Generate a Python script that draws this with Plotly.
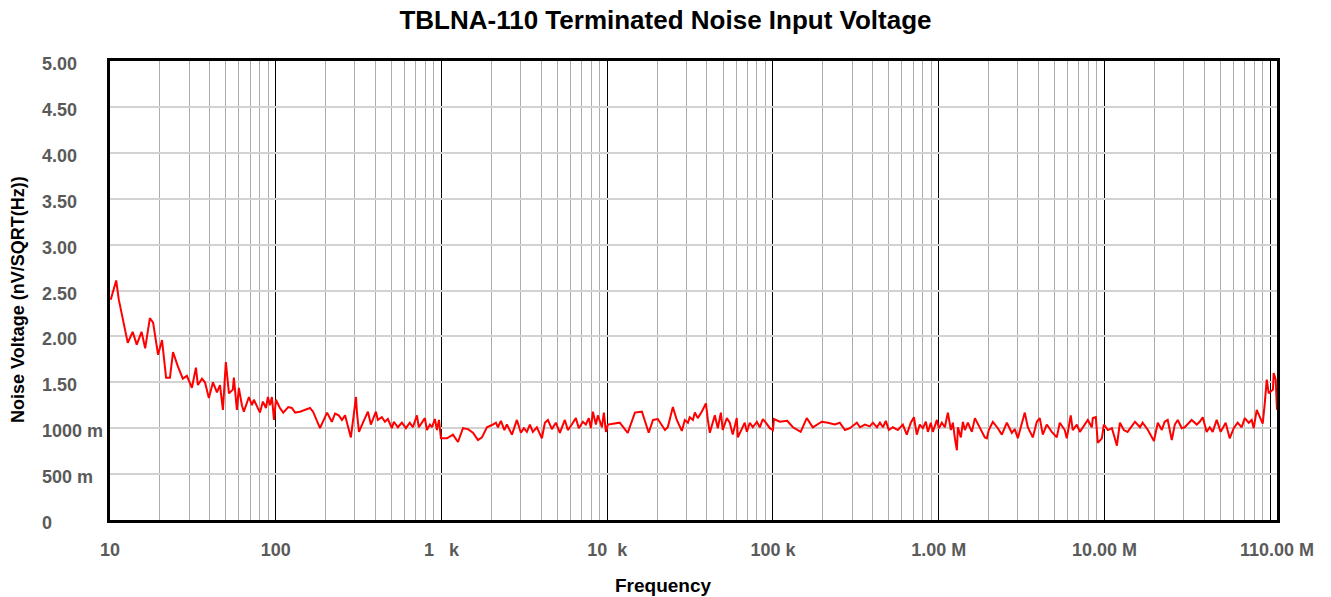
import plotly.graph_objects as go

# ---- data ----
freq_hz = [
    10.1, 10.9, 11.3, 12.8, 13.7, 14.5, 15.5, 16.3, 17.4, 18.2, 19.5, 20.6, 21.8, 23.0, 24.0,
    25.7, 27.5, 29.1, 31.2, 33.0, 33.9, 35.9, 37.4, 39.5, 41.8, 44.2, 46.1, 48.0, 50.0, 52.2,
    55.1, 55.9, 58.3, 59.9, 62.5, 64.2, 68.9, 71.8, 73.8, 80.3, 83.7, 87.3, 89.7, 92.2, 94.8,
    97.6, 100.3, 106, 111, 119, 125, 131, 140, 161, 168, 185, 204, 218, 228, 240,
    251, 262, 284, 292, 305, 309, 318, 336, 360, 375, 402, 413, 437, 456, 475,
    502, 516, 546, 577, 610, 644, 672, 711, 730, 761, 794, 817, 852, 876, 913,
    939, 966, 993, 1080, 1173, 1258, 1348, 1445, 1549, 1660, 1755, 1881, 2044, 2131, 2191,
    2284, 2397, 2482, 2662, 2852, 3015, 3142, 3277, 3416, 3561, 3765, 4035, 4207, 4385, 4636,
    4900, 5180, 5552, 5788, 6119, 6468, 6741, 7135, 7430, 7744, 7973, 8198, 8546, 8787, 9290,
    9548, 9826, 10.1e3, 11.9e3, 13.3e3, 14.7e3, 16.2e3, 17.8e3, 18.9e3, 20.2e3, 22.3e3, 23.2e3, 24.9e3, 26.3e3, 28.2e3,
    29.4e3, 30.7e3, 31.5e3, 32.9e3, 33.8e3, 35.2e3, 37.2e3, 39.4e3, 40.5e3, 41.6e3, 44.6e3, 46.5e3, 48.5e3, 49.8e3, 52.7e3,
    54.9e3, 57.2e3, 60.5e3, 61.4e3, 64.9e3, 67.6e3, 69.6e3, 72.5e3, 75.6e3, 80.0e3, 83.3e3, 86.9e3, 90.6e3, 95.8e3, 100e3,
    101.4e3, 110e3, 122e3, 132e3, 147e3, 160e3, 174e3, 197e3, 215e3, 236e3, 253e3, 272e3, 291e3, 321e3, 335e3,
    359e3, 384e3, 401e3, 424e3, 442e3, 461e3, 480e3, 500e3, 529e3, 567e3, 608e3, 642e3, 679e3, 709e3, 738e3,
    769e3, 803e3, 837e3, 861e3, 897e3, 922e3, 976e3, 1.003e6, 1.045e6, 1.090e6, 1.136e6, 1.185e6, 1.218e6, 1.253e6, 1.288e6,
    1.306e6, 1.361e6, 1.400e6, 1.439e6, 1.500e6, 1.586e6, 1.654e6, 1.773e6, 1.900e6, 1.953e6, 2.005e6, 2.123e6, 2.275e6, 2.405e6, 2.579e6,
    2.763e6, 2.880e6, 3.003e6, 3.309e6, 3.450e6, 3.698e6, 3.909e6, 4.075e6, 4.248e6, 4.492e6, 4.814e6, 5.160e6, 5.379e6, 5.765e6, 5.928e6,
    6.264e6, 6.442e6, 6.818e6, 7.107e6, 7.609e6, 7.942e6, 8.396e6, 8.512e6, 8.873e6, 9.124e6, 9.654e6, 9.92e6, 10.5e6, 11.1e6, 11.9e6,
    12.4e6, 13.1e6, 13.8e6, 15.3e6, 16.4e6, 17.0e6, 18.3e6, 19.9e6, 21.0e6, 22.2e6, 23.1e6, 24.1e6, 25.5e6, 26.6e6, 27.7e6,
    29.3e6, 30.5e6, 33.6e6, 36.1e6, 37.6e6, 39.2e6, 41.4e6, 43.2e6, 45.0e6, 47.6e6, 50.3e6, 53.9e6, 57.0e6, 60.3e6, 63.7e6,
    67.3e6, 70.3e6, 74.2e6, 77.4e6, 79.6e6, 83.0e6, 86.5e6, 90.2e6, 92.8e6, 95.4e6, 98.1e6, 104e6, 105e6, 108e6, 110e6,
]

noise_nv = [
    2.40, 2.61, 2.40, 1.93, 2.05, 1.91, 2.05, 1.87, 2.20, 2.15, 1.80, 1.96, 1.55, 1.55, 1.83,
    1.67, 1.54, 1.57, 1.44, 1.66, 1.47, 1.54, 1.50, 1.33, 1.50, 1.39, 1.47, 1.20, 1.72, 1.38,
    1.42, 1.55, 1.20, 1.44, 1.25, 1.18, 1.34, 1.25, 1.31, 1.17, 1.29, 1.22, 1.34, 1.25, 1.34,
    1.09, 1.31, 1.22, 1.17, 1.23, 1.22, 1.17, 1.18, 1.22, 1.18, 1.00, 1.17, 1.07, 1.16, 1.14,
    1.09, 1.14, 0.90, 1.09, 1.34, 1.17, 0.96, 1.06, 1.18, 1.04, 1.18, 1.09, 1.12, 1.07, 1.10,
    1.00, 1.07, 1.01, 1.06, 1.00, 1.06, 1.01, 1.14, 1.01, 1.06, 1.11, 0.98, 1.04, 1.01, 1.10,
    0.98, 1.09, 0.89, 0.89, 0.93, 0.85, 1.00, 0.99, 0.95, 0.87, 0.90, 1.01, 1.04, 1.06, 1.01,
    1.08, 0.98, 1.04, 0.93, 1.09, 0.95, 1.00, 0.96, 1.04, 0.96, 1.01, 0.89, 1.06, 1.09, 0.99,
    1.06, 0.95, 1.09, 0.98, 1.04, 1.11, 1.00, 1.07, 1.04, 1.11, 1.00, 1.18, 1.04, 1.14, 1.01,
    1.17, 0.96, 1.04, 1.06, 0.95, 1.17, 1.18, 0.95, 1.09, 1.10, 0.98, 1.01, 1.23, 1.09, 0.97,
    1.09, 1.06, 1.12, 1.09, 1.17, 1.11, 1.18, 1.27, 1.09, 0.95, 1.14, 1.00, 1.17, 0.98, 1.11,
    1.06, 0.93, 1.11, 0.90, 1.00, 1.06, 0.96, 1.06, 1.01, 1.07, 1.01, 1.10, 1.06, 1.00, 0.98,
    1.10, 1.07, 1.08, 1.01, 0.96, 1.11, 1.01, 1.07, 1.06, 1.04, 1.06, 0.98, 1.00, 1.06, 1.01,
    1.04, 1.02, 1.06, 1.01, 1.06, 1.01, 1.08, 0.98, 1.01, 0.98, 1.04, 0.93, 1.06, 1.12, 0.93,
    1.04, 1.00, 1.07, 0.96, 1.06, 0.96, 1.09, 1.00, 1.06, 1.01, 1.17, 0.98, 1.06, 0.89, 0.76,
    1.01, 0.90, 1.07, 0.98, 1.06, 0.96, 1.11, 1.01, 0.90, 0.89, 0.98, 1.07, 1.00, 0.93, 1.06,
    0.95, 0.99, 0.89, 1.17, 1.01, 0.90, 1.07, 1.11, 0.93, 1.04, 0.96, 0.90, 1.06, 0.98, 0.89,
    1.14, 0.98, 1.04, 0.96, 1.04, 1.09, 1.01, 1.11, 1.12, 0.84, 0.89, 1.04, 0.98, 1.00, 0.81,
    1.06, 0.98, 0.96, 1.07, 1.01, 1.06, 0.98, 0.86, 1.06, 0.98, 1.07, 1.09, 0.87, 1.04, 1.09,
    1.00, 1.01, 1.09, 1.04, 1.07, 1.12, 0.96, 1.01, 0.96, 1.09, 0.96, 1.06, 0.89, 1.00, 1.06,
    1.01, 1.11, 1.06, 1.09, 1.00, 1.20, 1.12, 1.05, 1.27, 1.53, 1.38, 1.42, 1.60, 1.53, 1.20,
]

x_major_vals = [10, 100, 1e3, 1e4, 1e5, 1e6, 1e7, 1e8, 1.1e8]
x_major_text = ["10", "100", "1\u00a0\u00a0\u00a0k", "10\u00a0\u00a0k", "100\u00a0k",
                "1.00\u00a0M", "10.00\u00a0M", "", "110.00\u00a0M"]
x_minor_vals = [m * 10 ** e for e in range(1, 9) for m in range(2, 10) if m * 10 ** e <= 1.1e8]

y_tick_vals = [0, 0.5, 1.0, 1.5, 2.0, 2.5, 3.0, 3.5, 4.0, 4.5, 5.0]
y_tick_text = ["0", "500 m", "1000 m", "1.50", "2.00", "2.50", "3.00", "3.50", "4.00", "4.50", "5.00"]

title_text = "TBLNA-110 Terminated Noise Input Voltage"
x_title = "Frequency"
y_title = "Noise Voltage (nV/SQRT(Hz))"

FONT = "Arial, Liberation Sans, sans-serif"
LABEL_GRAY = "#5a5a5a"
TICK_SIZE = 18

W, H = 1331, 597
ML, MR, MT, MB = 110, 54, 61, 77
PW = W - ML - MR
PH = H - MT - MB

fig = go.Figure()
fig.add_trace(go.Scatter(
    x=freq_hz, y=noise_nv, mode="lines",
    line=dict(color="#ff0000", width=2),
    hoverinfo="x+y", showlegend=False,
))

fig.update_layout(
    width=W, height=H,
    margin=dict(l=ML, r=MR, t=MT, b=MB, pad=0),
    paper_bgcolor="white", plot_bgcolor="white",
    font=dict(family=FONT),
    title=dict(text=title_text, x=0.5, xref="container", xanchor="center",
               y=1 - 20 / H, yref="container", yanchor="middle",
               font=dict(family=FONT, size=26, color="black", weight="bold")),
    xaxis=dict(
        type="log", range=[1, 8.04139], tickmode="array",
        tickvals=x_major_vals, ticktext=x_major_text,
        showgrid=True, gridcolor="black", gridwidth=1,
        ticks="", ticklabelstandoff=11,
        tickfont=dict(family=FONT, size=TICK_SIZE, color=LABEL_GRAY, weight="bold"),
        showline=True, mirror=True, linecolor="black", linewidth=3,
        zeroline=False,
        minor=dict(tickmode="array", tickvals=x_minor_vals, showgrid=True,
                   gridcolor="#ababab", gridwidth=1, ticks=""),
        layer="below traces",
    ),
    yaxis=dict(
        range=[0, 5], tickmode="array", tickvals=y_tick_vals,
        showticklabels=False, showgrid=True, gridcolor="#d2d2d2", gridwidth=2,
        ticks="", showline=True, mirror=True, linecolor="black", linewidth=3,
        zeroline=False,
    ),
)

annotations = []
for v, t in zip(y_tick_vals, y_tick_text):
    annotations.append(dict(
        text=t, x=(40 - ML) / PW, xref="paper", xanchor="left",
        y=v, yref="y", yanchor="middle", yshift=-3, showarrow=False,
        font=dict(family=FONT, size=TICK_SIZE, color=LABEL_GRAY, weight="bold"),
    ))
annotations.append(dict(
    text=x_title, x=(663 - ML) / PW, xref="paper", xanchor="center",
    y=(MT + PH - 585) / PH, yref="paper", yanchor="middle", showarrow=False,
    font=dict(family=FONT, size=19, color="black", weight="bold"),
))
annotations.append(dict(
    text=y_title, x=(18 - ML) / PW, xref="paper", xanchor="center",
    y=(MT + PH - 299) / PH, yref="paper", yanchor="middle", showarrow=False,
    textangle=-90,
    font=dict(family=FONT, size=18, color="black", weight="bold"),
))
fig.update_layout(annotations=annotations)

fig.write_html("out.html", config={"displayModeBar": False},
               post_script="document.body.style.margin='0px';")
